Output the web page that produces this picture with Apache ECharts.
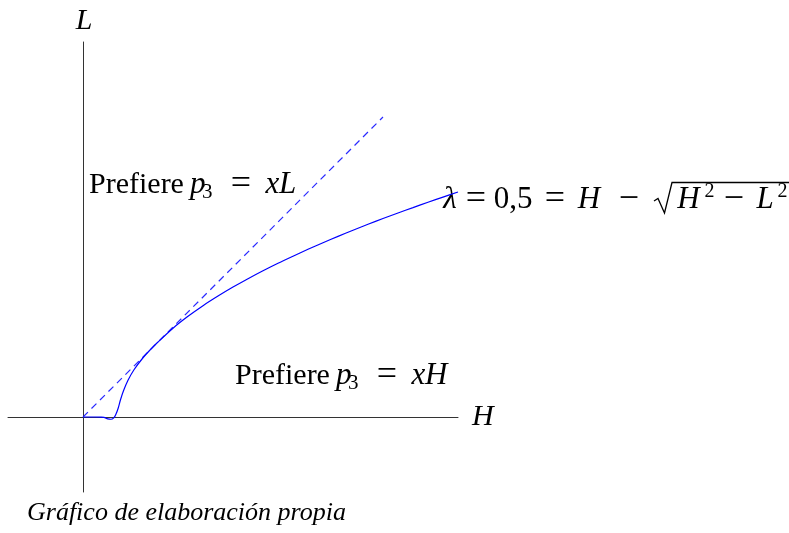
<!DOCTYPE html>
<html>
<head>
<meta charset="utf-8">
<script src="https://cdn.jsdelivr.net/npm/echarts@6/dist/echarts.min.js"></script>
<style>
  html, body { margin: 0; padding: 0; background: #fff; }
  #chart { width: 789px; height: 533px; }
</style>
</head>
<body>
<div id="chart"></div>
<script>
// Indifference curve for lambda = 0,5 (H on x, L on y)
const curveH = [0, 0.08, 0.12, 0.14, 0.165, 0.185, 0.205, 0.22, 0.235, 0.25, 0.27, 0.3, 0.34, 0.4, 0.45, 0.5, 0.6, 0.7, 0.8, 0.9, 1.0, 1.1, 1.2, 1.3, 1.4, 1.5, 1.6, 1.7, 1.8, 1.9, 2.0, 2.1, 2.2, 2.3, 2.4, 2.5];
const curveL = [0, 0, -0.001, -0.003, -0.012, -0.015, -0.006, 0.02, 0.06, 0.115, 0.175, 0.245, 0.315, 0.395, 0.45, 0.5, 0.592, 0.671, 0.742, 0.806, 0.866, 0.922, 0.975, 1.025, 1.072, 1.118, 1.162, 1.204, 1.245, 1.285, 1.323, 1.36, 1.396, 1.432, 1.466, 1.5];

// Diagonal H = L (dashed)
const diagH = [0, 2];
const diagL = [0, 2];

// Axis range
const axisMin = -0.5;
const axisMax = 2.5;

const serif = '"Liberation Serif", "Times New Roman", serif';
const blue = '#0000ff';

const chart = echarts.init(document.getElementById('chart'), null, { renderer: 'canvas' });

// Rich-text styles for the math labels; token widths give TeX-like spacing
const base = { fontFamily: serif, color: '#000', lineHeight: 36 };
const op = { fontFamily: serif, color: '#000', lineHeight: 36, fontSize: 36, align: 'center' };
const mathRich = {
  word: Object.assign({}, base, { fontSize: 30, width: 101 }),
  it:   Object.assign({}, base, { fontSize: 31, fontStyle: 'italic' }),
  p:    Object.assign({}, base, { fontSize: 31, fontStyle: 'italic', width: 12 }),
  sub:  { fontFamily: serif, fontSize: 21, color: '#000', lineHeight: 22, verticalAlign: 'bottom', width: 14 },
  eq1:  Object.assign({}, op, { width: 50 }),
  x:    Object.assign({}, base, { fontSize: 31, fontStyle: 'italic', width: 13 }),
  lam:  Object.assign({}, base, { fontSize: 31, fontStyle: 'italic', width: 26, align: 'center' }),
  eqA:  Object.assign({}, op, { width: 26 }),
  num:  Object.assign({}, base, { fontSize: 31, width: 48, align: 'right' }),
  eqB:  Object.assign({}, op, { width: 36 }),
  H:    Object.assign({}, base, { fontSize: 31, fontStyle: 'italic', width: 32, align: 'right' }),
  mA:   Object.assign({}, op, { width: 48 }),
  gap:  Object.assign({}, base, { fontSize: 31, width: 20 }),
  H2:   Object.assign({}, base, { fontSize: 31, fontStyle: 'italic', width: 31 }),
  sup:  { fontFamily: serif, fontSize: 20, color: '#000', lineHeight: 22, verticalAlign: 'top', width: 11 },
  mB:   Object.assign({}, op, { width: 38 }),
  L:    Object.assign({}, base, { fontSize: 31, fontStyle: 'italic', width: 24 })
};

chart.setOption({
  animation: false,
  backgroundColor: '#fff',
  grid: { left: 8, right: 331, top: 42, bottom: 41, containLabel: false },
  xAxis: {
    type: 'value', min: axisMin, max: axisMax,
    name: 'H', nameLocation: 'end', nameGap: 14,
    nameTextStyle: { fontFamily: serif, fontStyle: 'italic', fontSize: 30, color: '#000', verticalAlign: 'middle', padding: [6, 0, 0, 0] },
    axisLine: { onZero: true, lineStyle: { color: '#333', width: 1 } },
    axisTick: { show: false }, axisLabel: { show: false }, splitLine: { show: false }
  },
  yAxis: {
    type: 'value', min: axisMin, max: axisMax,
    name: 'L', nameLocation: 'end', nameGap: 6,
    nameTextStyle: { fontFamily: serif, fontStyle: 'italic', fontSize: 30, color: '#000', align: 'center', padding: [0, 0, 0, 2] },
    axisLine: { onZero: true, lineStyle: { color: '#333', width: 1 } },
    axisTick: { show: false }, axisLabel: { show: false }, splitLine: { show: false }
  },
  series: [
    {
      type: 'line',
      data: diagH.map((h, i) => [h, diagL[i]]),
      showSymbol: false,
      lineStyle: { color: '#2a2aff', width: 1.2, type: [7, 5] },
      z: 3
    },
    {
      type: 'line',
      data: curveH.map((h, i) => [h, curveL[i]]),
      showSymbol: false,
      smooth: 0.3,
      lineStyle: { color: blue, width: 1.2 },
      z: 4
    }
  ],
  graphic: [
    {
      type: 'text', left: 89, top: 167, z: 1,
      style: {
        text: '{word|Prefiere}{p|p}{sub|3}{eq1|=}{x|x}{it|L}',
        rich: mathRich
      }
    },
    {
      type: 'text', left: 235, top: 358, z: 1,
      style: {
        text: '{word|Prefiere}{p|p}{sub|3}{eq1|=}{x|x}{it|H}',
        rich: mathRich
      }
    },
    {
      type: 'text', left: 437, top: 182, z: 1,
      style: {
        text: '{lam|λ}{eqA|=}{num|0,5}{eqB|=}{H|H}{mA|−}{gap| }{H2|H}{sup|2}{mB|−}{L|L}{sup|2}',
        rich: mathRich
      }
    },
    {
      // radical sign with its vinculum
      type: 'polyline', z: 1,
      shape: { points: [[654, 201], [658, 198.5], [664.5, 213], [672, 182.5], [789, 182.5]] },
      style: { stroke: '#000', lineWidth: 1.3, fill: null }
    },
    {
      type: 'text', left: 27, top: 500, z: 1,
      style: {
        text: 'Gráfico de elaboración propia',
        fontFamily: serif, fontStyle: 'italic', fontSize: 26, fill: '#000'
      }
    }
  ]
});
</script>
</body>
</html>
